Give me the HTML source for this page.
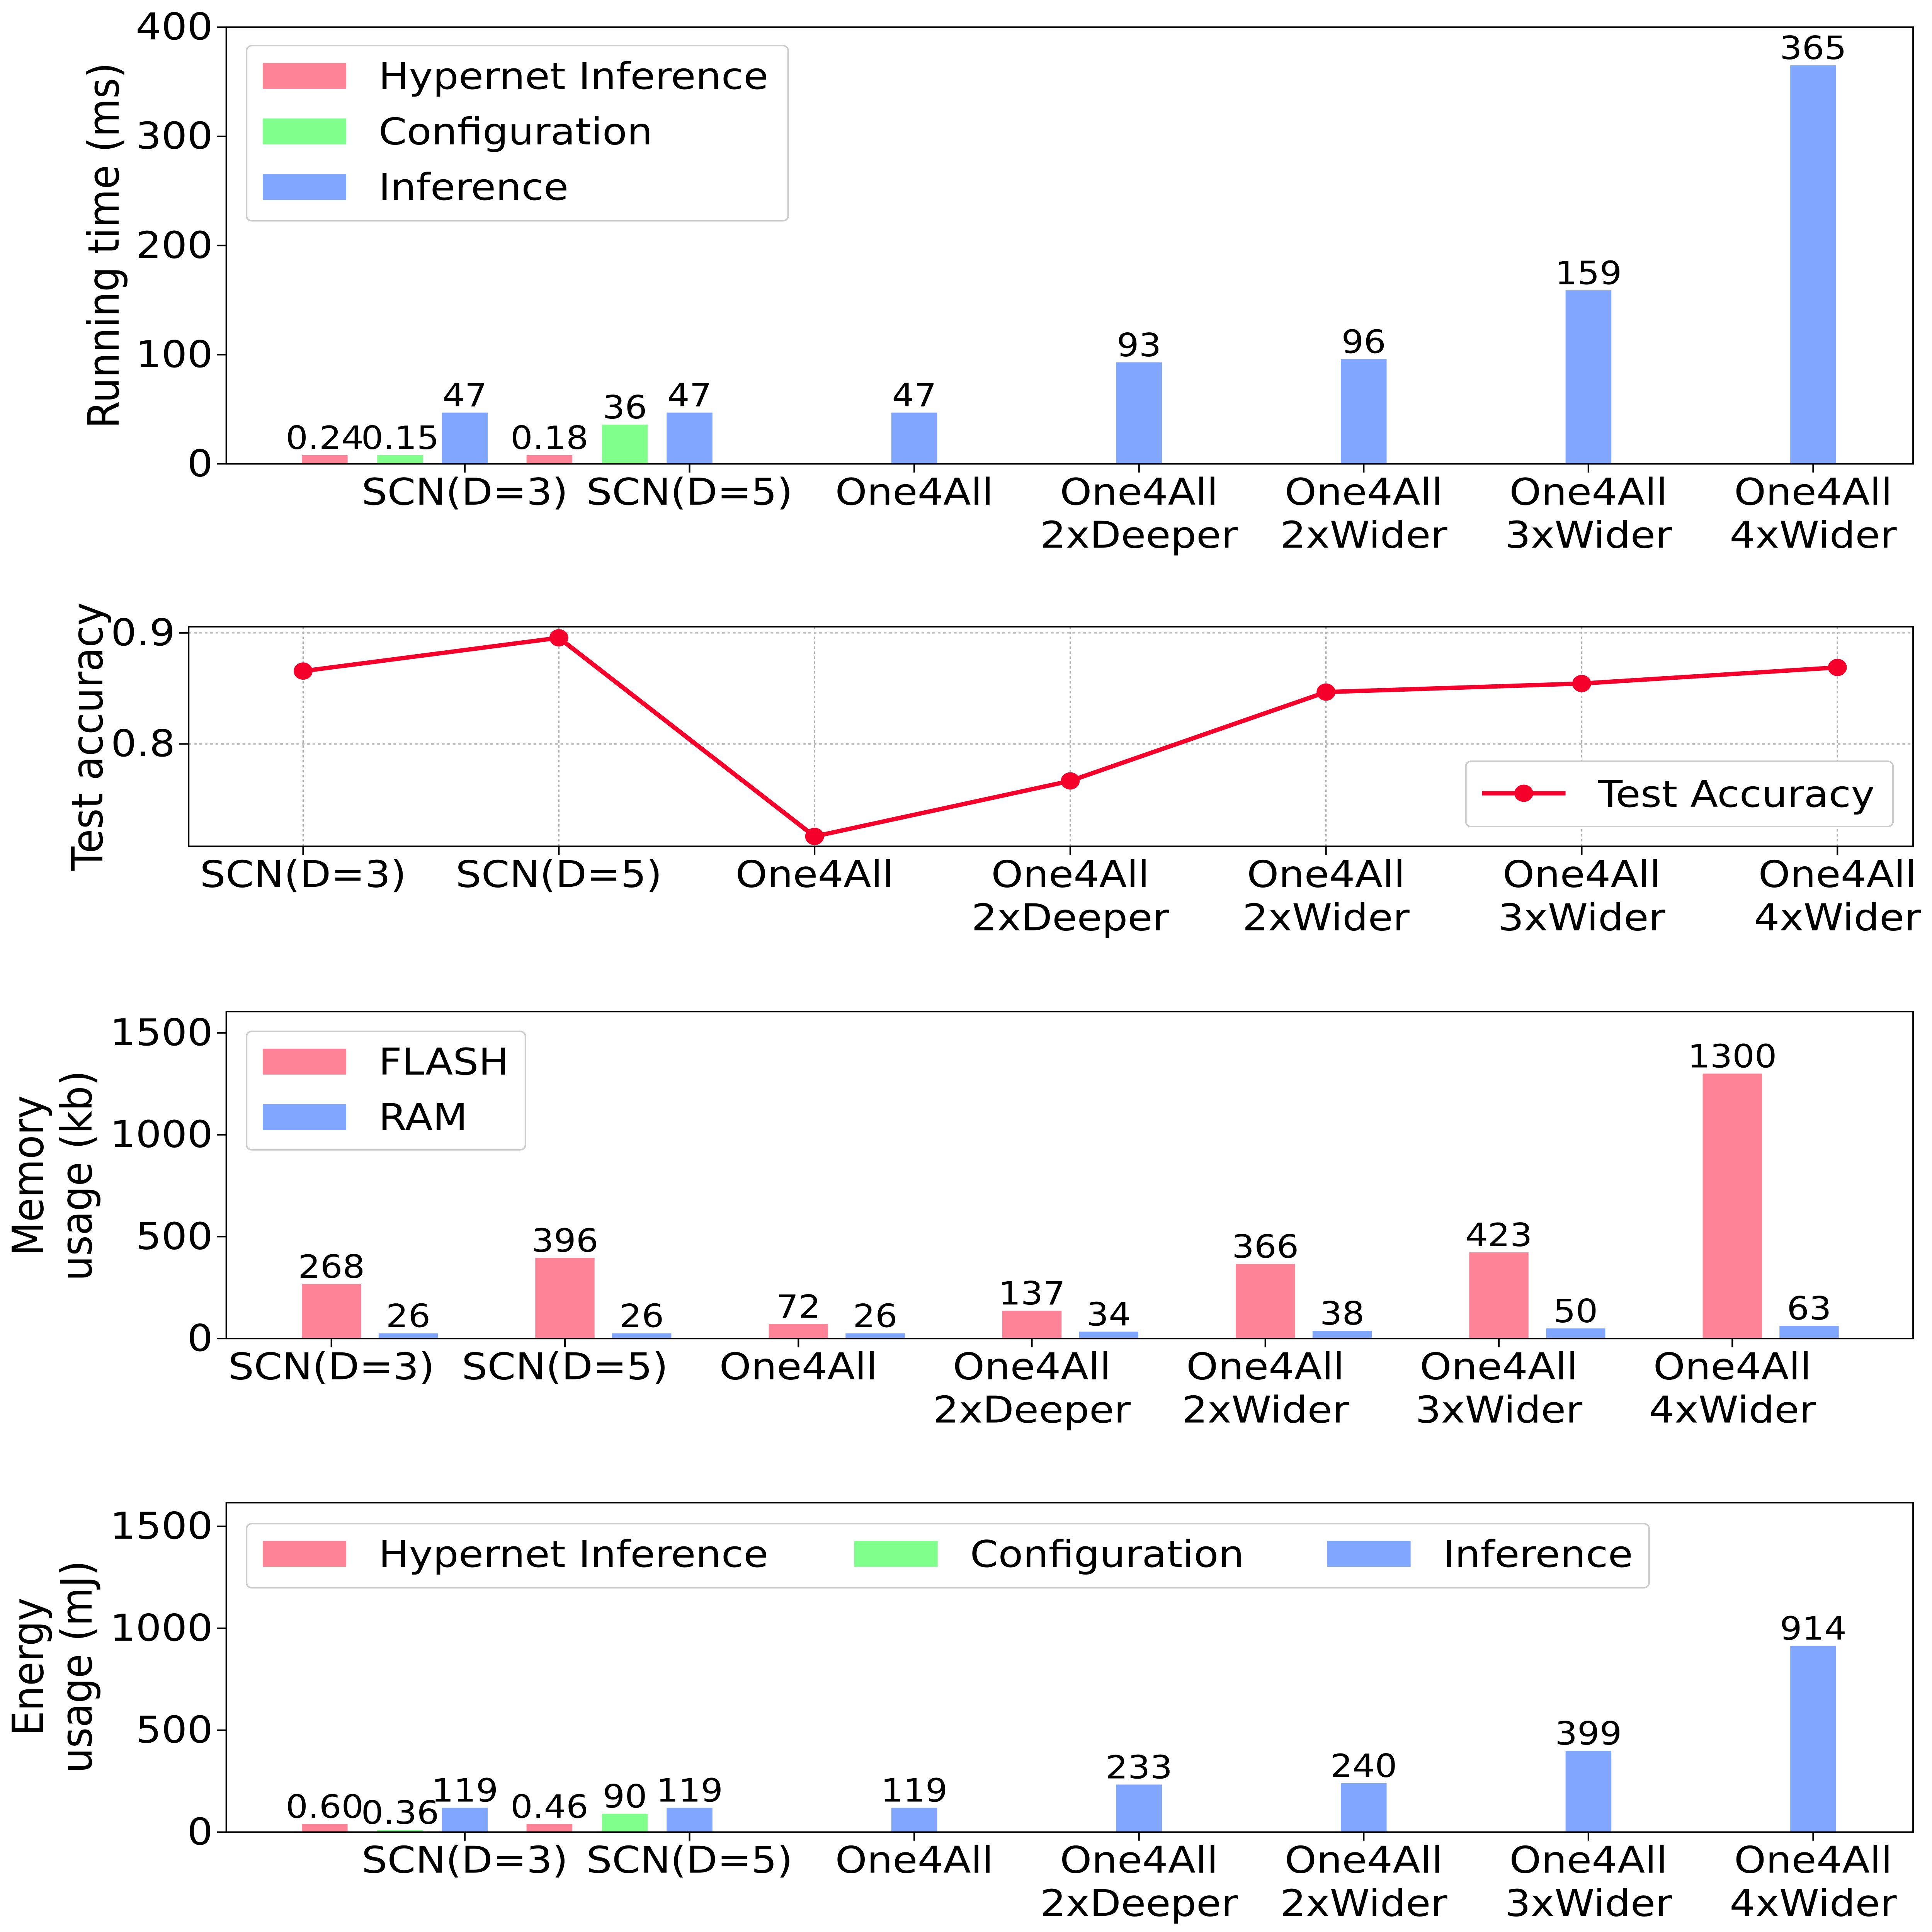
<!DOCTYPE html>
<html><head><meta charset="utf-8"><style>
html,body{margin:0;padding:0;background:#fff;overflow:hidden;width:100vw;height:100vh}
svg{display:block;width:100vw;height:100vh;font-family:"DejaVu Sans","Liberation Sans",sans-serif}
</style></head><body>
<svg id="c" viewBox="0 0 1434 1566" preserveAspectRatio="none" xmlns="http://www.w3.org/2000/svg"></svg>
<script>
const categories=["SCN(D=3)","SCN(D=5)","One4All","One4All\n2xDeeper","One4All\n2xWider","One4All\n3xWider","One4All\n4xWider"];
// panel 1 running time
const rtHyper=[8,8,null,null,null,null,null];
const rtHyperLbl=["0.24","0.18",null,null,null,null,null];
const rtConfig=[8,36,null,null,null,null,null];
const rtConfigLbl=["0.15","36",null,null,null,null,null];
const rtInfer=[47,47,47,93,96,159,365];
const rtTicks=[0,100,200,300,400];
// panel 2 accuracy
const accuracy=[0.8656,0.8956,0.7167,0.7667,0.8467,0.8544,0.8689];
const accTicks=[0.8,0.9];
// panel 3 memory
const flash=[268,396,72,137,366,423,1300];
const ram=[26,26,26,34,38,50,63];
const memTicks=[0,500,1000,1500];
// panel 4 energy
const enHyper=[40,40,null,null,null,null,null];
const enHyperLbl=["0.60","0.46",null,null,null,null,null];
const enConfig=[10,90,null,null,null,null,null];
const enConfigLbl=["0.36","90",null,null,null,null,null];
const enInfer=[119,119,119,233,240,399,914];
const enTicks=[0,500,1000,1500];

const C={pink:"#ff8396",green:"#80ff8c",blue:"#80a6ff",red:"#f5002a"};
const FS=30, VS=26;
const svg=document.getElementById('c');
const NS="http://www.w3.org/2000/svg";
function el(tag,attrs,parent){const e=document.createElementNS(NS,tag);for(const k in attrs)e.setAttribute(k,attrs[k]);(parent||svg).appendChild(e);return e;}
function txt(x,y,s,size,anchor,parent,extra){const t=el('text',Object.assign({x:x,y:y,'font-size':size,'text-anchor':anchor||'middle',fill:'#000'},extra||{}),parent);t.textContent=s;return t;}
function catLabel(g,x,y,s){const lines=s.split("\n");lines.forEach((l,i)=>{const t=txt(x,y+i*35,l,FS,'middle',g);});}
function frame(g,L,R,T,B){const r=el('rect',{x:L,y:T,width:R-L,height:B-T,fill:'none',stroke:'#000','stroke-width':1.2},g);}
function yAxis(g,L,ticks,ys,fmt){ticks.forEach(v=>{const y=ys(v);el('line',{x1:L-7,x2:L,y1:y,y2:y,stroke:'#000','stroke-width':1.2},g);const t=txt(L-10,y+10,fmt?fmt(v):String(v),FS,'end',g);});}
function bar(g,cx,w,v,ys,color,name){const y=ys(v),y0=ys(0);const r=el('rect',{x:cx-w/2,y:y,width:w,height:y0-y,fill:color},g);return y;}
function valLbl(g,x,y,s){const t=txt(x,y-5,s,VS,'middle',g);}
function legendBox(g,x,y,w,h){const r=el('rect',{x:x,y:y,width:w,height:h,rx:4,fill:'#fff',stroke:'#ccc','stroke-width':1.2},g);}
function legEntry(g,x,y,color,label){const r=el('rect',{x:x,y:y-10,width:62,height:21,fill:color},g);const t=txt(x+86,y+11,label,FS,'start',g);}
function yTitle(g,x,y,lines){lines.forEach((l,i)=>{const t=txt(0,0,l,32,'middle',g,{transform:`translate(${x+i*36},${y}) rotate(-90)`});});}

function groupChart(name,T,B,ymax,ticks,hyper,hyperL,config,configL,infer,title){
 const g=el('g',{});
 const L=168,R=1420;const x0=345,dx=166.8;
 const ys=v=>B-(v/ymax)*(B-T);
 yAxis(g,L,ticks,ys);
 categories.forEach((c,i)=>{const cx=x0+i*dx;
  if(hyper[i]!=null){const y=bar(g,cx-104,34,hyper[i],ys,C.pink,'bar-hypernet');valLbl(g,cx-104,y,hyperL[i]);}
  if(config[i]!=null){const y=bar(g,cx-48,34,config[i],ys,C.green,'bar-configuration');valLbl(g,cx-48,y,configL[i]);}
  const y=bar(g,cx,34,infer[i],ys,C.blue,'bar-inference');valLbl(g,cx,y,String(infer[i]));
  el('line',{x1:cx,x2:cx,y1:B,y2:B+7,stroke:'#000','stroke-width':1.2},g);
  catLabel(g,cx,B+33,c);
 });
 frame(g,L,R,T,B);
 yTitle(g,title.x,title.y,title.lines);
 return g;
}
const g1=groupChart('running-time-chart',22,376,400,rtTicks,rtHyper,rtHyperLbl,rtConfig,rtConfigLbl,rtInfer,{x:88,y:199,lines:["Running time (ms)"]});
legendBox(g1,183,37,402,142);
legEntry(g1,195,61,C.pink,"Hypernet Inference");
legEntry(g1,195,106,C.green,"Configuration");
legEntry(g1,195,151,C.blue,"Inference");

const g4=groupChart('energy-chart',1218,1485,(1485-1218)/0.1652,enTicks,enHyper,enHyperLbl,enConfig,enConfigLbl,enInfer,{x:32,y:1351,lines:["Energy","usage (mJ)"]});
legendBox(g4,183,1235,1041,52);
legEntry(g4,195,1259,C.pink,"Hypernet Inference");
legEntry(g4,634,1259,C.green,"Configuration");
legEntry(g4,985,1259,C.blue,"Inference");

(function(){
 const g=el('g',{});
 const L=140,R=1420,T=508,B=686;
 const ys=v=>603-(v-0.8)*900;
 const xs=i=>225+i*189.8;
 accTicks.forEach(v=>{el('line',{x1:L,x2:R,y1:ys(v),y2:ys(v),stroke:'#b0b0b0','stroke-width':1,'stroke-dasharray':'2,2'},g);});
 categories.forEach((c,i)=>{el('line',{x1:xs(i),x2:xs(i),y1:T,y2:B,stroke:'#b0b0b0','stroke-width':1,'stroke-dasharray':'2,2'},g);
  el('line',{x1:xs(i),x2:xs(i),y1:B,y2:B+7,stroke:'#000','stroke-width':1.2},g);catLabel(g,xs(i),B+33,c);});
 yAxis(g,L,accTicks,ys,v=>v.toFixed(1));
 const p=el('polyline',{points:accuracy.map((v,i)=>xs(i)+','+ys(v)).join(' '),fill:'none',stroke:C.red,'stroke-width':3.5},g);
 
 accuracy.forEach((v,i)=>{const d=el('circle',{cx:xs(i),cy:ys(v),r:7,fill:C.red},g);});
 frame(g,L,R,T,B);
 yTitle(g,76,597,["Test accuracy"]);
 legendBox(g,1088,617,317,53);
 el('line',{x1:1100,x2:1162,y1:643,y2:643,stroke:C.red,'stroke-width':3.5},g);
 el('circle',{cx:1131,cy:643,r:7,fill:C.red},g);
 const t=txt(1186,654,"Test Accuracy",FS,'start',g);
})();

(function(){
 const g=el('g',{});
 const L=168,R=1420,T=820,B=1085;
 const ys=v=>B-v*0.1652;
 const xs=i=>274.5+i*173.3;
 yAxis(g,L,memTicks,ys);
 categories.forEach((c,i)=>{
  let y=bar(g,xs(i)-28.5,44,flash[i],ys,C.pink,'bar-flash');valLbl(g,xs(i)-28.5,y,String(flash[i]));
  y=bar(g,xs(i)+28.5,44,ram[i],ys,C.blue,'bar-ram');valLbl(g,xs(i)+28.5,y,String(ram[i]));
  el('line',{x1:xs(i)-28.5,x2:xs(i)-28.5,y1:B,y2:B+7,stroke:'#000','stroke-width':1.2},g);
  catLabel(g,xs(i)-28.5,B+33,c);
 });
 frame(g,L,R,T,B);
 yTitle(g,32,953,["Memory","usage (kb)"]);
 legendBox(g,183,836,207,96);
 legEntry(g,195,860,C.pink,"FLASH");
 legEntry(g,195,905,C.blue,"RAM");
})();
</script>
</body></html>
